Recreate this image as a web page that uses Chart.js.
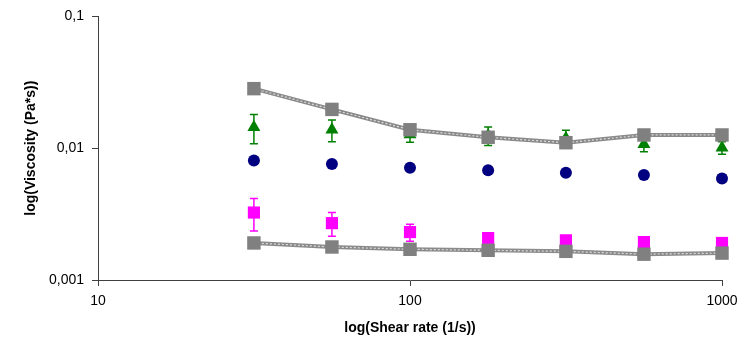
<!DOCTYPE html>
<html>
<head>
<meta charset="utf-8">
<script src="https://cdn.jsdelivr.net/npm/chart.js@4"></script>
<style>
  html, body { margin: 0; padding: 0; background: #fff; }
  #wrap { width: 749px; height: 344px; }
</style>
</head>
<body>
<div id="wrap"><canvas id="myChart"></canvas></div>
<script>
// values
const shearRate = [31.6, 56.2, 100, 178, 316, 562, 1000];
const grayTop = [0.0283, 0.0197, 0.0138, 0.0121, 0.0110, 0.0126, 0.0126];
const greenTri = [0.0144, 0.0138, 0.0127, 0.0125, 0.0119, 0.0107, 0.0101];
const greenErr = [0.0036, 0.0026, 0.0016, 0.0020, 0.0018, 0.0013, 0.0011];
const navyDot = [0.00808, 0.00759, 0.00711, 0.00680, 0.00652, 0.00627, 0.00588];
const pinkSq = [0.00325, 0.00270, 0.00231, 0.00208, 0.00200, 0.00194, 0.00191];
const pinkErr = [0.0009, 0.00055, 0.00034, 0, 0, 0, 0];
const grayBottom = [0.00191, 0.00178, 0.00171, 0.00168, 0.00165, 0.00157, 0.00160];

const xTicks = [10, 100, 1000];
const xTickLabels = ['10', '100', '1000'];
const yTicks = [0.001, 0.01, 0.1];
const yTickLabels = ['0,001', '0,01', '0,1'];

const pts = arr => shearRate.map((x, i) => ({x: x, y: arr[i]}));

// draws vertical error bars with caps, under the markers
const errorBars = {
  id: 'errorBars',
  beforeDatasetsDraw(chart) {
    const ctx = chart.ctx;
    const xs = chart.scales.x, ys = chart.scales.y;
    chart.data.datasets.forEach(ds => {
      if (!ds.errors) return;
      ctx.save();
      ctx.strokeStyle = ds.errorColor;
      ctx.lineWidth = 1.5;
      ds.data.forEach((p, j) => {
        const e = ds.errors[j];
        if (!e) return;
        const px = xs.getPixelForValue(p.x);
        const top = ys.getPixelForValue(p.y + e);
        const bot = ys.getPixelForValue(p.y - e);
        ctx.beginPath();
        ctx.moveTo(px, top); ctx.lineTo(px, bot);
        ctx.moveTo(px - 4, top); ctx.lineTo(px + 4, top);
        ctx.moveTo(px - 4, bot); ctx.lineTo(px + 4, bot);
        ctx.stroke();
      });
      ctx.restore();
    });
  }
};

function lineSets(arr, ord) {
  return [
    {data: pts(arr), borderColor: '#8a8a8a', borderWidth: 4, pointRadius: 0, clip: false, order: ord + 1},
    {data: pts(arr), borderColor: '#dcdcdc', borderWidth: 1.2, borderDash: [2, 2], pointRadius: 0, clip: false, order: ord},
    {data: pts(arr), showLine: false, pointStyle: 'rect', pointRadius: 9.5, clip: false,
     backgroundColor: '#808080', borderColor: '#808080', borderWidth: 0, order: ord - 1}
  ];
}

const ctx = document.getElementById('myChart').getContext('2d');
new Chart(ctx, {
  type: 'line',
  data: {
    datasets: [
      {data: pts(greenTri), showLine: false, pointStyle: 'triangle', pointRadius: 7.5, clip: false,
       backgroundColor: '#008000', borderColor: '#008000', borderWidth: 0,
       errors: greenErr, errorColor: '#008000', order: 20},
      {data: pts(navyDot), showLine: false, pointStyle: 'circle', pointRadius: 6, clip: false,
       backgroundColor: '#000080', borderColor: '#000080', borderWidth: 0, order: 19},
      {data: pts(pinkSq), showLine: false, pointStyle: 'rect', pointRadius: 8.6, clip: false,
       backgroundColor: '#ff00ff', borderColor: '#ff00ff', borderWidth: 0,
       errors: pinkErr, errorColor: '#ff00ff', order: 18},
      ...lineSets(grayTop, 10),
      ...lineSets(grayBottom, 5)
    ]
  },
  plugins: [errorBars],
  options: {
    responsive: true,
    maintainAspectRatio: false,
    animation: false,
    layout: {padding: {top: 14, right: 27, left: 0, bottom: 0}},
    plugins: {legend: {display: false}, tooltip: {enabled: false}},
    scales: {
      x: {
        type: 'logarithmic', min: 10, max: 1000, position: 'bottom',
        afterFit: s => { s.height = 64; },
        afterBuildTicks: s => { s.ticks = xTicks.map(v => ({value: v})); },
        grid: {display: true, drawOnChartArea: false, color: '#404040', tickLength: 6},
        border: {color: '#404040', width: 1},
        ticks: {
          autoSkip: false, maxRotation: 0, padding: 7, color: '#000',
          font: {family: 'Liberation Sans', size: 14},
          callback: v => xTickLabels[xTicks.indexOf(v)]
        },
        title: {display: true, text: 'log(Shear rate (1/s))', color: '#000',
          font: {family: 'Liberation Sans', size: 14, weight: 'bold'},
          padding: {top: 0, bottom: 7}}
      },
      y: {
        type: 'logarithmic', min: 0.001, max: 0.1,
        afterFit: s => { s.width = 98; },
        afterBuildTicks: s => { s.ticks = yTicks.map(v => ({value: v})); },
        grid: {display: true, drawOnChartArea: false, color: '#404040', tickLength: 6},
        border: {color: '#404040', width: 1},
        ticks: {
          autoSkip: false, padding: 8, color: '#000',
          font: {family: 'Liberation Sans', size: 14},
          callback: v => yTickLabels[yTicks.indexOf(v)]
        },
        title: {display: true, text: 'log(Viscosity (Pa*s))', color: '#000',
          font: {family: 'Liberation Sans', size: 14, weight: 'bold'},
          padding: {top: 23, bottom: 0}}
      }
    }
  }
});
</script>
</body>
</html>
